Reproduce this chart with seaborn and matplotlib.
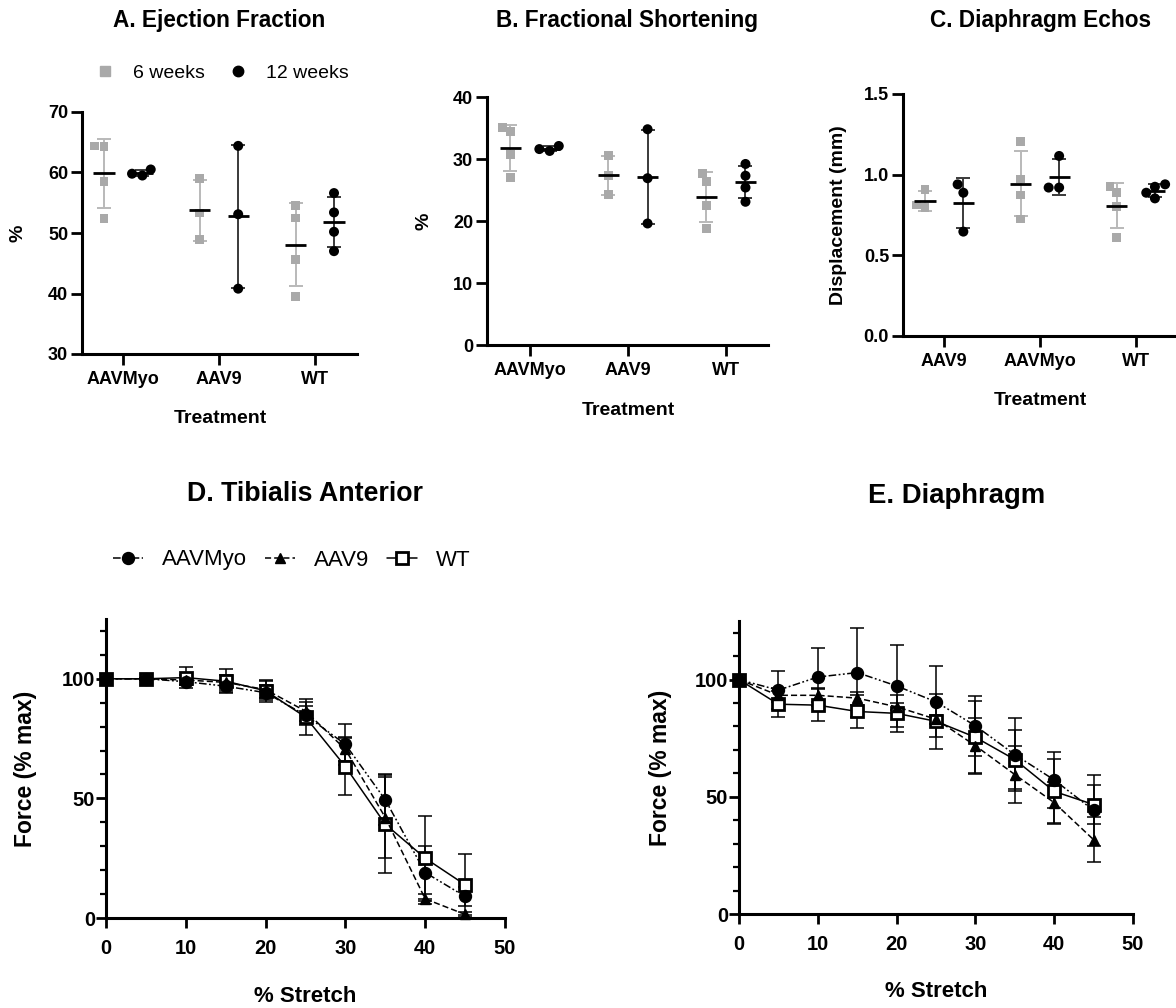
import numpy as np
import pandas as pd
import matplotlib
matplotlib.use("Agg")
import matplotlib.pyplot as plt
from matplotlib.lines import Line2D
from matplotlib.ticker import MultipleLocator
import seaborn as sns

# ---------------- data ----------------
time_levels = ["6 weeks", "12 weeks"]

# A. Ejection Fraction (%)
ef_order = ["AAVMyo", "AAV9", "WT"]
ef_6wk_aavmyo = [64.3, 64.4, 58.5, 52.4]
ef_6wk_aav9 = [59.0, 53.3, 48.9]
ef_6wk_wt = [54.6, 52.5, 45.6, 39.5]
ef_12wk_aavmyo = [59.5, 60.5, 59.8]
ef_12wk_aav9 = [64.4, 53.1, 40.8]
ef_12wk_wt = [56.6, 53.4, 50.2, 47.0]

# B. Fractional Shortening (%)
fs_order = ["AAVMyo", "AAV9", "WT"]
fs_6wk_aavmyo = [34.4, 35.1, 30.75, 27.0]
fs_6wk_aav9 = [30.6, 27.3, 24.3]
fs_6wk_wt = [26.4, 27.7, 22.5, 18.8]
fs_12wk_aavmyo = [31.3, 32.1, 31.6]
fs_12wk_aav9 = [34.8, 26.9, 19.6]
fs_12wk_wt = [29.2, 27.3, 25.4, 23.1]

# C. Diaphragm Echos (mm)
de_order = ["AAV9", "AAVMyo", "WT"]
de_6wk_aav9 = [0.909, 0.795, 0.812]
de_6wk_aavmyo = [1.205, 0.973, 0.874, 0.725]
de_6wk_wt = [0.888, 0.925, 0.802, 0.612]
de_12wk_aav9 = [0.940, 0.888, 0.647]
de_12wk_aavmyo = [1.116, 0.920, 0.920]
de_12wk_wt = [0.940, 0.925, 0.853, 0.888]

# D / E force vs stretch (% max), mean and SD
stretch = [0, 5, 10, 15, 20, 25, 30, 35, 40, 45]
series_names = ["AAVMyo", "AAV9", "WT"]

ta_aavmyo = [100, 100, 98.8, 96.9, 94.2, 84.8, 72.6, 49.4, 19.0, 9.0]
ta_aavmyo_sd = [0, 0.5, 1.5, 2.5, 3.0, 4.0, 8.6, 10.7, 11.0, 4.0]
ta_aav9 = [100, 100, 99.5, 98.5, 95.5, 86.5, 70.5, 42.0, 8.0, 1.5]
ta_aav9_sd = [0, 0.3, 2.0, 3.0, 3.5, 4.0, 5.0, 17.0, 2.0, 1.0]
ta_wt = [100, 100, 100.5, 99.0, 95.0, 84.0, 63.3, 39.2, 25.0, 13.9]
ta_wt_sd = [0, 0.3, 4.5, 5.0, 4.5, 7.6, 11.8, 20.5, 17.7, 12.8]

dia_aavmyo = [100, 95.5, 101.1, 103.0, 97.3, 90.5, 80.3, 68.0, 57.2, 44.2]
dia_aavmyo_sd = [0, 8.0, 12.5, 19.0, 17.4, 15.2, 12.8, 15.6, 11.8, 15.0]
dia_aav9 = [100, 93.3, 93.3, 92.1, 88.4, 83.1, 71.8, 59.5, 47.5, 31.7]
dia_aav9_sd = [0, 3.0, 3.0, 2.8, 1.5, 2.0, 12.0, 12.0, 8.7, 9.5]
dia_wt = [100, 89.5, 89.1, 86.4, 85.6, 82.2, 75.4, 65.9, 52.3, 46.7]
dia_wt_sd = [0, 5.6, 6.8, 7.2, 8.0, 11.6, 15.3, 12.6, 13.8, 8.4]

# ---------------- style ----------------
sns.set_theme(style="ticks")
plt.rcParams["font.family"] = ["Liberation Sans", "DejaVu Sans"]
plt.rcParams.update({
    "axes.linewidth": 2.2,
    "axes.edgecolor": "black",
    "text.color": "black",
    "axes.labelcolor": "black",
    "xtick.color": "black",
    "ytick.color": "black",
    "xtick.labelcolor": "black",
    "ytick.labelcolor": "black",
})

GRAY = "#A9A9A9"
GRAY_ERR = "#B9B9B9"
DARK_ERR = "#3A3A3A"
W, H = 1176, 1008

fig = plt.figure(figsize=(W / 100, H / 100), dpi=100)


def px_axes(left, right, top, bottom):
    return fig.add_axes([left / W, 1 - bottom / H, (right - left) / W, (bottom - top) / H])


def long_df(order, six, twelve):
    rows = []
    for g, v6, v12 in zip(order, six, twelve):
        rows += [(g, "6 weeks", v) for v in v6]
        rows += [(g, "12 weeks", v) for v in v12]
    return pd.DataFrame(rows, columns=["Treatment", "Time", "Value"])


def cat_panel(ax, df, order, ylim, ystep, xlim, ylabel, ylab_x, xlab_y):
    styles = {"6 weeks": ("s", GRAY, 6.3), "12 weeks": ("o", "black", 7.2)}
    for lvl in time_levels:
        marker, color, size = styles[lvl]
        sub = df[df["Time"] == lvl]
        sns.swarmplot(data=sub, x="Treatment", y="Value", order=order, hue="Time",
                      hue_order=time_levels, palette={"6 weeks": GRAY, "12 weeks": "black"},
                      dodge=True, marker=marker, size=size, linewidth=0, ax=ax,
                      legend=False, zorder=3)
    stats = df.groupby(["Treatment", "Time"])["Value"].agg(["mean", "std"])
    offsets = {"6 weeks": -0.2, "12 weeks": 0.2}
    ecols = {"6 weeks": GRAY_ERR, "12 weeks": DARK_ERR}
    for i, g in enumerate(order):
        for lvl in time_levels:
            m, s = stats.loc[(g, lvl), "mean"], stats.loc[(g, lvl), "std"]
            xc = i + offsets[lvl]
            ax.errorbar(xc, m, yerr=s, fmt="none", ecolor=ecols[lvl], elinewidth=1.4,
                        capsize=5, capthick=1.4, zorder=2)
            ax.hlines(m, xc - 0.11, xc + 0.11, color="black", lw=2.0, zorder=4)
    ax.set_ylim(*ylim)
    ax.set_xlim(*xlim)
    ax.yaxis.set_major_locator(MultipleLocator(ystep))
    sns.despine(ax=ax)
    ax.tick_params(axis="both", length=8, width=2.0, labelsize=13, color="black",
                   labelcolor="black")
    ax.tick_params(axis="y", pad=2)
    ax.tick_params(axis="x", pad=4)
    for lab in ax.get_xticklabels() + ax.get_yticklabels():
        lab.set_fontweight("bold")
    ax.set_xlabel("Treatment", fontsize=14, fontweight="bold", color="black")
    ax.xaxis.set_label_coords(0.503, xlab_y)
    ax.xaxis.label.set_va("baseline")
    ax.set_ylabel(ylabel, fontsize=14, fontweight="bold", color="black")
    ax.yaxis.set_label_coords(ylab_x, 0.5)
    ax.yaxis.label.set_va("center")


axA = px_axes(82, 357, 112, 354)
axB = px_axes(487, 768, 97, 345)
axC = px_axes(903, 1176, 94, 336)

dfA = long_df(ef_order, [ef_6wk_aavmyo, ef_6wk_aav9, ef_6wk_wt],
              [ef_12wk_aavmyo, ef_12wk_aav9, ef_12wk_wt])
dfB = long_df(fs_order, [fs_6wk_aavmyo, fs_6wk_aav9, fs_6wk_wt],
              [fs_12wk_aavmyo, fs_12wk_aav9, fs_12wk_wt])
dfC = long_df(de_order, [de_6wk_aav9, de_6wk_aavmyo, de_6wk_wt],
              [de_12wk_aav9, de_12wk_aavmyo, de_12wk_wt])

cat_panel(axA, dfA, ef_order, (30, 70), 10, (-0.43, 2.44), "%", -0.231, -0.285)
cat_panel(axB, dfB, fs_order, (0, 40), 10, (-0.44, 2.43), "%", -0.224, -0.282)
cat_panel(axC, dfC, de_order, (0, 1.5), 0.5, (-0.43, 2.42), "Displacement (mm)", -0.238, -0.285)
axC.yaxis.set_major_formatter(matplotlib.ticker.FormatStrFormatter("%.1f"))
for lab in axC.get_yticklabels():
    lab.set_fontweight("bold")

fig.text(219 / W, 1 - 27.3 / H, "A. Ejection Fraction", ha="center", va="baseline",
         fontsize=16.3, fontweight="bold", color="black")
fig.text(627 / W, 1 - 27.3 / H, "B. Fractional Shortening", ha="center", va="baseline",
         fontsize=16.3, fontweight="bold", color="black")
fig.text(1040 / W, 1 - 26.7 / H, "C. Diaphragm Echos", ha="center", va="baseline",
         fontsize=16.3, fontweight="bold", color="black")

legA = [Line2D([], [], ls="none", marker="s", color=GRAY, ms=7.5, label="6 weeks"),
        Line2D([], [], ls="none", marker="o", color="black", ms=7.5, label="12 weeks")]
fig.legend(handles=legA, loc="center left", bbox_to_anchor=(95 / W, 1 - 73 / H), ncol=2,
           frameon=False, fontsize=14, handlelength=1.0, handletextpad=0.95,
           columnspacing=1.2, borderpad=0, borderaxespad=0, labelcolor="black")

# ---------------- D / E ----------------
DASHDOTDOT = (0, (5, 1.6, 1.2, 1.6, 1.2, 1.6))
DASHED = (0, (4, 2))
line_styles = {
    "AAVMyo": dict(marker="o", ls=DASHDOTDOT, mfc="black", ms=8.6, mew=1.0),
    "AAV9": dict(marker="^", ls=DASHED, mfc="black", ms=7.6, mew=1.0),
    "WT": dict(marker="s", ls="-", mfc="white", ms=8.0, mew=2.0),
}


def force_panel(ax, data, ylab_x, xlab_y):
    for name in ["WT", "AAV9", "AAVMyo"]:
        y, sd = data[name]
        st = line_styles[name]
        ax.errorbar(stretch, y, yerr=sd, fmt="none", ecolor="black", elinewidth=1.1,
                    capsize=4.8, capthick=1.1, zorder=2, clip_on=False)
        sns.lineplot(x=stretch, y=y, ax=ax, color="black", lw=1.1, linestyle=st["ls"],
                     marker=st["marker"], markersize=st["ms"], markerfacecolor=st["mfc"],
                     markeredgecolor="black", markeredgewidth=st["mew"], errorbar=None,
                     clip_on=False, zorder=3)
    ax.set_xlim(0, 50)
    ax.set_ylim(0, 125)
    ax.set_xticks([0, 10, 20, 30, 40, 50])
    ax.set_yticks([0, 50, 100])
    ax.yaxis.set_minor_locator(MultipleLocator(10))
    sns.despine(ax=ax)
    ax.tick_params(axis="both", which="major", length=7, width=2.0, labelsize=14.5,
                   color="black", labelcolor="black")
    ax.tick_params(axis="y", which="minor", length=4, width=1.6, color="black")
    ax.tick_params(axis="y", which="major", pad=1)
    ax.tick_params(axis="x", which="major", pad=8)
    for lab in ax.get_xticklabels() + ax.get_yticklabels():
        lab.set_fontweight("bold")
    ax.set_xlabel("% Stretch", fontsize=16, fontweight="bold", color="black")
    ax.xaxis.set_label_coords(0.5, xlab_y)
    ax.xaxis.label.set_va("baseline")
    ax.set_ylabel("Force (% max)", fontsize=16.5, fontweight="bold", color="black")
    ax.yaxis.set_label_coords(ylab_x, 0.5)
    ax.yaxis.label.set_va("center")


axD = px_axes(106, 505, 619, 918)
axE = px_axes(739, 1133, 621, 914)

force_panel(axD, {"AAVMyo": (ta_aavmyo, ta_aavmyo_sd), "AAV9": (ta_aav9, ta_aav9_sd),
                  "WT": (ta_wt, ta_wt_sd)}, -0.203, -0.281)
force_panel(axE, {"AAVMyo": (dia_aavmyo, dia_aavmyo_sd), "AAV9": (dia_aav9, dia_aav9_sd),
                  "WT": (dia_wt, dia_wt_sd)}, -0.2005, -0.283)

fig.text(305 / W, 1 - 500.7 / H, "D. Tibialis Anterior", ha="center", va="baseline",
         fontsize=19.3, fontweight="bold", color="black")
fig.text(957 / W, 1 - 502.7 / H, "E. Diaphragm", ha="center", va="baseline",
         fontsize=19.8, fontweight="bold", color="black")

legD = []
for name in series_names:
    st = line_styles[name]
    legD.append(Line2D([], [], color="black", lw=1.1, ls=st["ls"], marker=st["marker"],
                       ms=st["ms"], mfc=st["mfc"], mec="black", mew=st["mew"], label=name))
fig.legend(handles=legD, loc="center left", bbox_to_anchor=(113 / W, 1 - 560 / H), ncol=3,
           frameon=False, fontsize=16, handlelength=1.35, handletextpad=0.85,
           columnspacing=0.8, borderpad=0, borderaxespad=0, labelcolor="black")

fig.savefig("out.png", dpi=100)
